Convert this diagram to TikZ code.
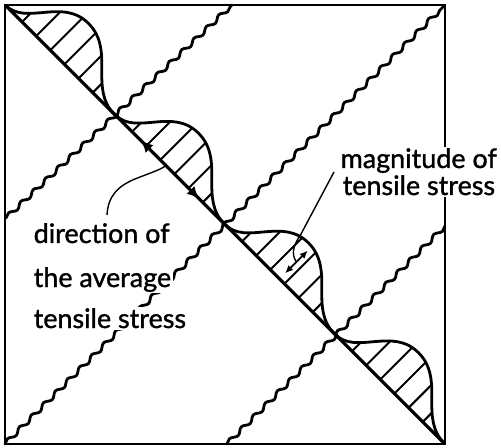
\documentclass[tikz,border=0pt]{standalone}
\usepackage{fontspec}
\setmainfont{Lato}
\newfontfamily\lblfont{Lato}[FakeBold=1.2]
\usetikzlibrary{decorations.pathmorphing,arrows.meta}
\begin{document}
\begin{tikzpicture}[x=1bp,y=-1bp,
  frame/.style={line width=2.4bp},
  diag/.style={line width=3.2bp},
  wavy/.style={line width=2.8bp, line cap=round, decorate, decoration={snake, amplitude=2bp, segment length=17bp}},
  bulge/.style={line width=2.8bp},
  hatch/.style={line width=2bp},
  leader/.style={line width=1.4bp},
  lbl/.style={font=\lblfont\fontsize{27}{31}\selectfont, inner sep=1.5bp, fill=white, anchor=base west},
  tip/.style={line width=1.5bp, -{Latex[length=12bp,width=11bp]}},
  magtip/.style={line width=1.8bp, {Latex[length=8bp,width=7bp]}-{Latex[length=8bp,width=7bp]}},
  local/.style={x={(0.7071bp,-0.7071bp)}, y={(0.7071bp,0.7071bp)}}]
\useasboundingbox (0,0) rectangle (501,448);
% corners and crossing points
\coordinate (TL) at (5,5);
\coordinate (TR) at (445,5);
\coordinate (BR) at (445,444);
\coordinate (BL) at (5,444);
\coordinate (C1) at (115,114.75);
\coordinate (C2) at (225,224.5);
\coordinate (C3) at (335,334.25);
\coordinate (W1a) at (6,218);
\coordinate (W1b) at (232,5);
\coordinate (W3a) at (227,444);
\coordinate (W3b) at (445,226);
% bulges with hatching
\foreach \P in {TL,C1,C2,C3}{
  \begin{scope}[shift={(\P)}, local]
    \begin{scope}
      \clip (0,0) .. controls (30,0) and (35,46) .. (72,46) .. controls (110,46) and (118,0) .. (155,0) -- cycle;
      \foreach \s in {24,44,...,124} \draw[hatch] (\s,-2) -- (\s,52);
    \end{scope}
    \draw[bulge] (0,0) .. controls (30,0) and (35,46) .. (72,46) .. controls (110,46) and (118,0) .. (155,0);
  \end{scope}
}
\begin{scope}[shift={(C2)}, local]
  \coordinate (magA) at (77,8);
  \coordinate (magB) at (77,40);
  \coordinate (magmid) at (77,24);
\end{scope}
% main diagonal
\draw[diag] (TL) -- (BR);
% wavy lines
\draw[wavy] (W1a) -- (W1b);
\draw[wavy] (BL) -- (TR);
\draw[wavy] (W3a) -- (W3b);
% frame
\draw[frame] (TL) rectangle (BR);
% direction arrows on diagonal
\coordinate (dA) at (141,140.5);
\coordinate (dB) at (199,198.5);
\coordinate (dM) at (170,169.5);
\coordinate (dlead) at (166,165.6);
\draw[tip] (dM) -- (dA);
\draw[tip] (dM) -- (dB);
% magnitude arrow
\draw[magtip] (magA) -- (magB);
% labels
\node[lbl] (dir1) at (32,243) {direction of};
\node[lbl] (dir2) at (32,287) {the average};
\node[lbl] (dir3) at (32,328) {tensile stress};
\node[lbl] (mag1) at (339,168) {magnitude of};
\node[lbl] (mag2) at (341,195) {tensile stress};
% leaders
\coordinate (dirstart) at (107,215);
\draw[leader] (dirstart) .. controls (108,196) and (118,186) .. (135,179) .. controls (150,173) and (160,170) .. (dlead);
\coordinate (magstart) at (334,172);
\draw[leader] (magstart) -- (301,234) .. controls (293,246) and (291,254) .. (magmid);
\end{tikzpicture}
\end{document}
